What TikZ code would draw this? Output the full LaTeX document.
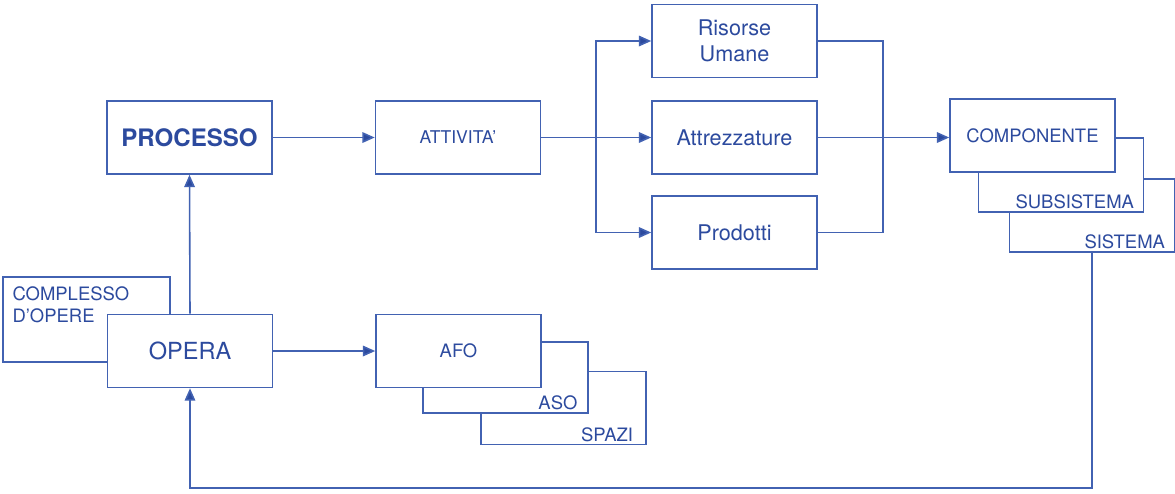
\documentclass[tikz,border=0pt]{standalone}
\usepackage{fontspec}
\setmainfont{TeX Gyre Heros}
\usepackage{xcolor}
\usetikzlibrary{arrows.meta,positioning,calc}

\definecolor{inkBlue}{RGB}{44,74,158}
\definecolor{lineBlue}{RGB}{66,98,178}

\begin{document}
\begin{tikzpicture}[
    font=\fontsize{10.5}{12.5}\selectfont,
    >={Triangle[length=7pt,width=6pt,fill=inkBlue]},
    block/.style={
        draw=lineBlue,
        line width=0.9pt,
        fill=white,
        text=inkBlue,
        align=center,
        minimum width=3.3cm,
        minimum height=1.46cm,
        inner sep=0pt
    },
    bigText/.style={
        font=\fontsize{12.3}{14.5}\selectfont
    },
    tag/.style={
        text=inkBlue,
        inner sep=0pt,
        align=left
    },
    link/.style={
        ->,
        draw=lineBlue,
        line width=0.9pt
    },
    wire/.style={
        draw=lineBlue,
        line width=0.9pt
    }
]

\useasboundingbox (0,0) rectangle (23.5,-9.86);

% Top row
\node[block, font=\fontsize{13.7}{16}\selectfont\bfseries] (processo) at (3.79,-2.75) {PROCESSO};
\node[block, font=\fontsize{10}{12}\selectfont] (attivita) at (9.16,-2.75) {ATTIVITA'};

% Resources column
\node[block, bigText] (risorse) at (14.69,-0.82) {Risorse\\Umane};
\node[block, bigText] (attrezzature) at (14.69,-2.75) {Attrezzature};
\node[block, bigText] (prodotti) at (14.69,-4.65) {Prodotti};

% Stacked boxes on the right, back to front
\node[block] (sistema) at (21.84,-4.31) {};
\node[tag, anchor=south east] (sistemaText) at ([shift={(-0.2,0.07)}]sistema.south east) {SISTEMA};
\node[block, minimum height=1.48cm] (subsistema) at (21.22,-3.5) {};
\node[tag, anchor=south east] (subsistemaText) at ([shift={(-0.2,0.07)}]subsistema.south east) {SUBSISTEMA};
\node[block] (componente) at (20.65,-2.71) {COMPONENTE};

% Bottom row
\node[block, minimum width=3.34cm, minimum height=1.7cm] (complesso) at (1.73,-6.39) {};
\node[tag, anchor=north west] (complessoText) at ([shift={(0.2,-0.2)}]complesso.north west) {COMPLESSO\\D'OPERE};
\node[block, font=\fontsize{13.4}{16}\selectfont] (opera) at (3.8,-7.02) {OPERA};

\node[block] (spazi) at (11.27,-8.16) {};
\node[tag, anchor=south east] (spaziText) at ([shift={(-0.27,0.07)}]spazi.south east) {SPAZI};
\node[block, minimum height=1.42cm] (aso) at (10.11,-7.55) {};
\node[tag, anchor=south east] (asoText) at ([shift={(-0.22,0.07)}]aso.south east) {ASO};
\node[block] (afo) at (9.17,-7.02) {AFO};

% Straight arrows
\draw[link] (processo.east) -- (attivita.west);
\draw[link] (opera.north) -- (processo.south);
\draw[link] (opera.east) -- (afo.west);

% Fan out from ATTIVITA'
\coordinate (fanOut) at (11.92,-2.75);
\draw[wire] (attivita.east) -- (fanOut);
\draw[link] (fanOut) |- (risorse.west);
\draw[link] (fanOut) -- (attrezzature.west);
\draw[link] (fanOut) |- (prodotti.west);

% Gather into COMPONENTE
\coordinate (fanIn) at (17.66,-2.75);
\draw[wire] (risorse.east) -| (fanIn);
\draw[wire] (prodotti.east) -| (fanIn);
\draw[link] (attrezzature.east) -- (attrezzature.east -| componente.west);

% Feedback from SISTEMA back to OPERA
\coordinate (backA) at (21.84,-9.76);
\coordinate (backB) at (3.8,-9.76);
\draw[link] (sistema.south) -- (backA) -- (backB) -- (opera.south);

\end{tikzpicture}
\end{document}
